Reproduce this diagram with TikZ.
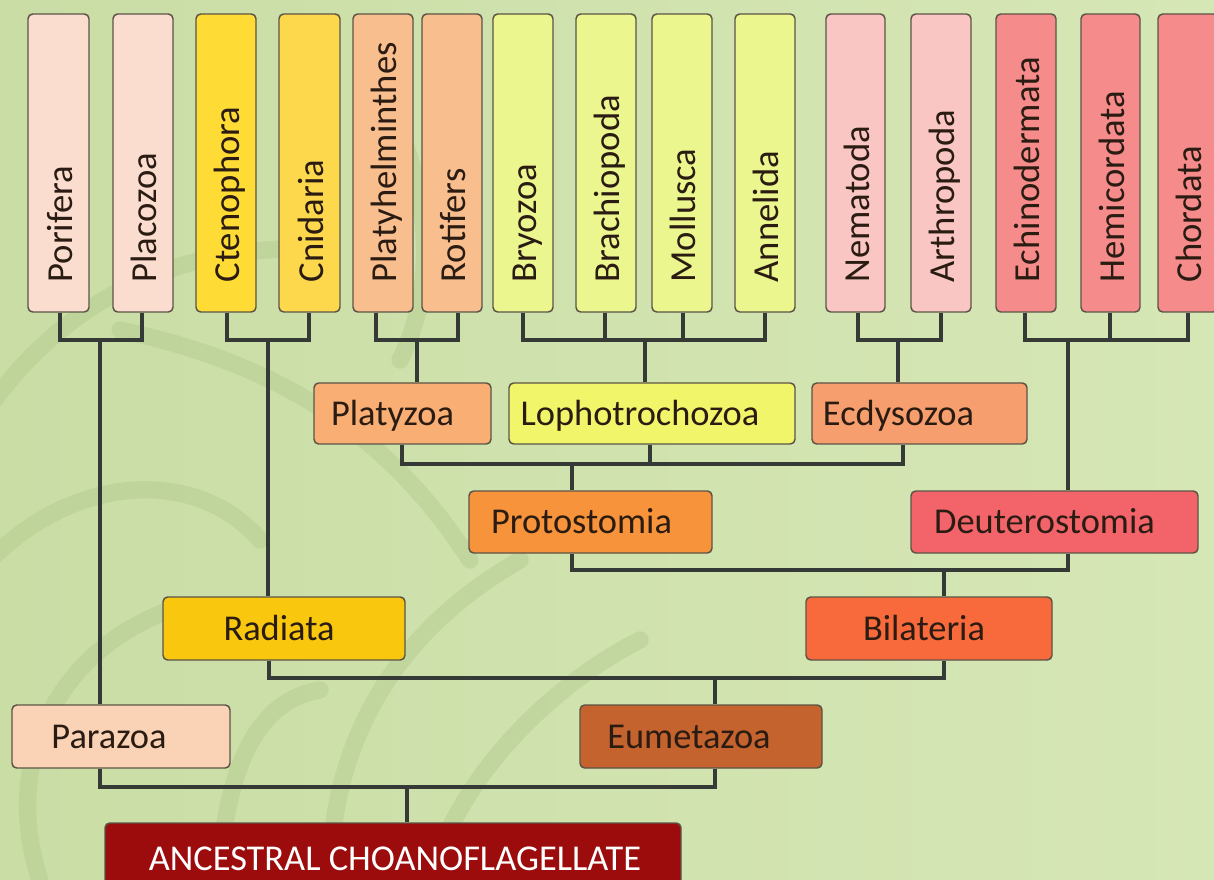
\documentclass[tikz,border=0pt]{standalone}
\usepackage{fontspec}
\setmainfont{Carlito}
\usetikzlibrary{fit,calc}
\definecolor{bgL}{HTML}{CADDA5}
\definecolor{bgR}{HTML}{D6E7B6}
\definecolor{swirlc}{HTML}{A9C485}
\definecolor{linec}{HTML}{363A36}
\definecolor{boxline}{HTML}{5C5446}
\definecolor{txtc}{HTML}{2A1C12}
\definecolor{cPor}{HTML}{FBDDD0}
\definecolor{cCte}{HTML}{FFDC35}
\definecolor{cCni}{HTML}{FDD84C}
\definecolor{cPlh}{HTML}{F9BE8E}
\definecolor{cLop}{HTML}{ECF68E}
\definecolor{cNem}{HTML}{F9C6C4}
\definecolor{cEch}{HTML}{F58C8B}
\definecolor{cPlz}{HTML}{F9AE74}
\definecolor{cLoz}{HTML}{F0F56A}
\definecolor{cEcd}{HTML}{F79E6E}
\definecolor{cPro}{HTML}{F7933A}
\definecolor{cDeu}{HTML}{F2646A}
\definecolor{cRad}{HTML}{F9C80E}
\definecolor{cBil}{HTML}{F86A3C}
\definecolor{cPar}{HTML}{FAD3B6}
\definecolor{cEum}{HTML}{C5632F}
\definecolor{cAnc}{HTML}{9C0C0C}
\begin{document}
\begin{tikzpicture}[x=0.75pt,y=-0.75pt,
  box/.style={draw=boxline,line width=1.1pt,rounded corners=3.5pt,inner sep=0pt},
  toplbl/.style={rotate=90,anchor=base west,inner sep=0pt,text=txtc,font=\fontsize{27.5}{30}\selectfont},
  lbl/.style={inner sep=0pt,text=txtc,font=\fontsize{27.3}{30}\selectfont,text height=17.5pt,text depth=0pt},
  conn/.style={draw=linec,line width=2.3pt},
  swirl/.style={draw=swirlc,line width=13pt,line cap=round,opacity=0.35}]
\useasboundingbox (0,0) rectangle (1214,880);
\clip (0,0) rectangle (1214,880);
\shade[left color=bgL,right color=bgR] (0,0) rectangle (1214,880);
% faint decorative swirls
\draw[swirl] (-20,420) .. controls (60,300) and (180,240) .. (330,250);
\draw[swirl] (120,330) .. controls (260,360) and (380,420) .. (470,560);
\draw[swirl] (-10,560) .. controls (80,470) and (200,470) .. (260,540);
\draw[swirl] (40,880) .. controls (0,760) and (60,650) .. (170,610);
\draw[swirl] (330,880) .. controls (330,760) and (380,640) .. (520,560);
\draw[swirl] (430,880) .. controls (460,770) and (560,680) .. (640,640);
\draw[swirl] (220,860) .. controls (230,760) and (260,700) .. (320,690);
\draw[swirl] (380,90) .. controls (430,180) and (440,280) .. (400,360);

% top boxes
\foreach \n/\a/\b/\c/\t in {porifera/28/89/cPor/Porifera, placozoa/113/173/cPor/Placozoa,
  ctenophora/196/256/cCte/Ctenophora, cnidaria/279/340/cCni/Cnidaria,
  platyhelm/353/413/cPlh/Platyhelminthes, rotifers/422/482/cPlh/Rotifers,
  bryozoa/493/553/cLop/Bryozoa, brachiopoda/576/636/cLop/Brachiopoda,
  mollusca/652/712/cLop/Mollusca, annelida/735/795/cLop/Annelida,
  nematoda/826/885/cNem/Nematoda, arthropoda/911/971/cNem/Arthropoda,
  echinodermata/996/1056/cEch/Echinodermata, hemicordata/1081/1140/cEch/Hemicordata,
  chordata/1158/1218/cEch/Chordata}{
  \node[box,fill=\c,fit={(\a,14) (\b,312)}] (\n) {};
  \node[toplbl] (\n-t) at ($(\n.south)+(13.5,-30)$) {\t};
}

% lower boxes
\foreach \n/\a/\b/\ya/\yb/\c/\t/\dx in {platyzoa/314/491/383/444/cPlz/Platyzoa/-10,
  lopho/509/795/383/444/cLoz/Lophotrochozoa/-12,
  ecdysozoa/812/1027/383/444/cEcd/Ecdysozoa/-21,
  protostomia/469/712/491/553/cPro/Protostomia/-9,
  deuterostomia/911/1198/491/553/cDeu/Deuterostomia/-10,
  radiata/163/405/597/660/cRad/Radiata/-5,
  bilateria/806/1052/597/660/cBil/Bilateria/-5,
  parazoa/12/230/705/768/cPar/Parazoa/-12,
  eumetazoa/580/822/705/768/cEum/Eumetazoa/-12}{
  \node[box,fill=\c,fit={(\a,\ya) (\b,\yb)},
    label={[lbl,xshift=\dx*0.75pt]center:\t}] (\n) {};
}
\node[box,fill=cAnc,fit={(105,823) (681,895)},
  label={[lbl,text=white,xshift=1.5pt]center:ANCESTRAL CHOANOFLAGELLATE}] (ancestral) {};

% join points
\coordinate (jPar) at (100,340);
\coordinate (jRad) at (268,340);
\coordinate (jPlz) at (417,340);
\coordinate (jLop) at (645,340);
\coordinate (jEcd) at (898,340);
\coordinate (jDeu) at (1068,340);
\coordinate (jPro) at (572,464);
\coordinate (jBil) at (944,570);
\coordinate (jEum) at (715,678);
\coordinate (jAnc) at (407,787);

% top joins
\draw[conn] (porifera.south -| 60,0) |- (142,340) -- (placozoa.south -| 142,0);
\draw[conn] (jPar) -- (parazoa.north -| jPar);
\draw[conn] (ctenophora.south -| 227,0) |- (309,340) -- (cnidaria.south -| 309,0);
\draw[conn] (jRad) -- (radiata.north -| jRad);
\draw[conn] (platyhelm.south -| 376,0) |- (458,340) -- (rotifers.south -| 458,0);
\draw[conn] (jPlz) -- (platyzoa.north -| jPlz);
\draw[conn] (bryozoa.south -| 523,0) |- (765,340) -- (annelida.south -| 765,0);
\draw[conn] (brachiopoda.south -| 605,0) -- (605,340);
\draw[conn] (mollusca.south -| 683,0) -- (683,340);
\draw[conn] (jLop) -- (lopho.north -| jLop);
\draw[conn] (nematoda.south -| 858,0) |- (941,340) -- (arthropoda.south -| 941,0);
\draw[conn] (jEcd) -- (ecdysozoa.north -| jEcd);
\draw[conn] (echinodermata.south -| 1025,0) |- (1188,340) -- (chordata.south -| 1188,0);
\draw[conn] (hemicordata.south -| 1110,0) -- (1110,340);
\draw[conn] (jDeu) -- (deuterostomia.north -| jDeu);

% lower joins
\draw[conn] (platyzoa.south -| 402,0) |- (903,464) -- (ecdysozoa.south -| 903,0);
\draw[conn] (lopho.south -| 650,0) -- (650,464);
\draw[conn] (jPro) -- (protostomia.north -| jPro);
\draw[conn] (protostomia.south -| 572,0) |- (1068,570) -- (deuterostomia.south -| 1068,0);
\draw[conn] (jBil) -- (bilateria.north -| jBil);
\draw[conn] (radiata.south -| 269,0) |- (944,678) -- (bilateria.south -| 944,0);
\draw[conn] (jEum) -- (eumetazoa.north -| jEum);
\draw[conn] (parazoa.south -| 100,0) |- (715,787) -- (eumetazoa.south -| 715,0);
\draw[conn] (jAnc) -- (ancestral.north -| jAnc);
\end{tikzpicture}
\end{document}
